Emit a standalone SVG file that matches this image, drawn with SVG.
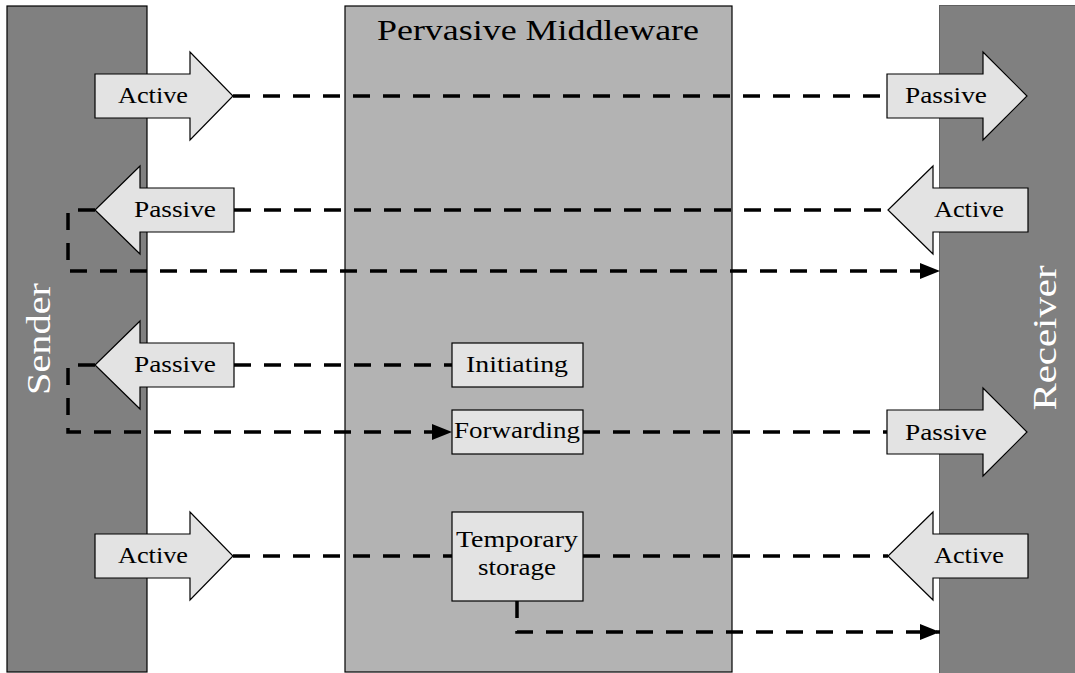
<svg xmlns="http://www.w3.org/2000/svg" width="1075" height="673" viewBox="0 0 1075 673">
  <style>
    .lane { fill: #808080; }
    .mid { fill: #b3b3b3; stroke: #000; stroke-width: 1.2; }
    .shape { fill: #e3e3e3; stroke: #000; stroke-width: 1.2; }
    .lbl { font-family: "Liberation Serif", "Times New Roman", serif; font-size: 24px; fill: #000; text-anchor: middle; }
    .side { font-family: "Liberation Serif", "Times New Roman", serif; font-size: 34px; fill: #fff; text-anchor: middle; }
    .title { font-family: "Liberation Serif", "Times New Roman", serif; font-size: 29px; fill: #000; text-anchor: middle; }
    .dash { fill: none; stroke: #000; stroke-width: 3.5; stroke-dasharray: 17 13; }
  </style>
  <defs>
    <marker id="tip" markerUnits="userSpaceOnUse" markerWidth="22" markerHeight="18" refX="20" refY="8" orient="auto">
      <path d="M0,0 L20,8 L0,16 Z" fill="#000"/>
    </marker>
  </defs>

  <!-- swimlanes -->
  <g id="sender">
    <rect class="lane" x="7" y="6" width="140" height="666" stroke="#000" stroke-width="1.2"/>
    <text class="side" transform="translate(50,339) rotate(-90)" textLength="112" lengthAdjust="spacingAndGlyphs">Sender</text>
  </g>
  <g id="middleware">
    <rect class="mid" x="345" y="6" width="387" height="666"/>
    <text class="title" x="538" y="40" textLength="322" lengthAdjust="spacingAndGlyphs">Pervasive Middleware</text>
  </g>
  <g id="receiver">
    <rect class="lane" x="939.5" y="5.5" width="140" height="668" stroke="#606060" stroke-width="1"/>
    <text class="side" transform="translate(1056,338) rotate(-90)" textLength="145" lengthAdjust="spacingAndGlyphs">Receiver</text>
  </g>

  <!-- connectors -->
  <g id="connectors">
    <path class="dash" d="M233,96 H887"/>
    <path class="dash" d="M234,210 H888"/>
    <path class="dash" d="M95,210 H68 V271 H940" marker-end="url(#tip)"/>
    <path class="dash" d="M234,365 H452"/>
    <path class="dash" d="M95,365 H68 V432 H452" marker-end="url(#tip)"/>
    <path class="dash" d="M583,432 H887"/>
    <path class="dash" d="M233,556 H452"/>
    <path class="dash" d="M583,556 H888"/>
    <path class="dash" d="M517,601 V632 H940" marker-end="url(#tip)"/>
  </g>

  <!-- sender side -->
  <g id="s-active-1">
    <path class="shape" d="M95,74 H190 V52 L233,96 L190,140 V118 H95 Z"/>
    <text class="lbl" x="153" y="103" textLength="70" lengthAdjust="spacingAndGlyphs">Active</text>
  </g>
  <g id="s-passive-2">
    <path class="shape" d="M234,188 H140 V166 L95,210 L140,254 V232 H234 Z"/>
    <text class="lbl" x="175" y="217" textLength="82" lengthAdjust="spacingAndGlyphs">Passive</text>
  </g>
  <g id="s-passive-3">
    <path class="shape" d="M234,343 H140 V321 L95,365 L140,409 V387 H234 Z"/>
    <text class="lbl" x="175" y="372" textLength="82" lengthAdjust="spacingAndGlyphs">Passive</text>
  </g>
  <g id="s-active-4">
    <path class="shape" d="M95,534 H190 V512 L233,556 L190,600 V578 H95 Z"/>
    <text class="lbl" x="153" y="563" textLength="70" lengthAdjust="spacingAndGlyphs">Active</text>
  </g>

  <!-- middleware nodes -->
  <g id="initiating">
    <rect class="shape" x="452" y="343" width="131" height="44"/>
    <text class="lbl" x="517" y="372" textLength="102" lengthAdjust="spacingAndGlyphs">Initiating</text>
  </g>
  <g id="forwarding">
    <rect class="shape" x="452" y="410" width="131" height="44"/>
    <text class="lbl" x="517" y="438" textLength="126" lengthAdjust="spacingAndGlyphs">Forwarding</text>
  </g>
  <g id="temporary-storage">
    <rect class="shape" x="452" y="512" width="131" height="89"/>
    <text class="lbl" x="517" y="547" textLength="122" lengthAdjust="spacingAndGlyphs">Temporary</text>
    <text class="lbl" x="517" y="575" textLength="78" lengthAdjust="spacingAndGlyphs">storage</text>
  </g>

  <!-- receiver side -->
  <g id="r-passive-1">
    <path class="shape" d="M887,74 H983 V52 L1027,96 L983,140 V118 H887 Z"/>
    <text class="lbl" x="946" y="103" textLength="82" lengthAdjust="spacingAndGlyphs">Passive</text>
  </g>
  <g id="r-active-2">
    <path class="shape" d="M1028,188 H933 V166 L888,210 L933,254 V232 H1028 Z"/>
    <text class="lbl" x="969" y="217" textLength="70" lengthAdjust="spacingAndGlyphs">Active</text>
  </g>
  <g id="r-passive-3">
    <path class="shape" d="M887,410 H983 V388 L1027,432 L983,476 V454 H887 Z"/>
    <text class="lbl" x="946" y="440" textLength="82" lengthAdjust="spacingAndGlyphs">Passive</text>
  </g>
  <g id="r-active-4">
    <path class="shape" d="M1028,534 H933 V512 L888,556 L933,600 V578 H1028 Z"/>
    <text class="lbl" x="969" y="563" textLength="70" lengthAdjust="spacingAndGlyphs">Active</text>
  </g>
</svg>
